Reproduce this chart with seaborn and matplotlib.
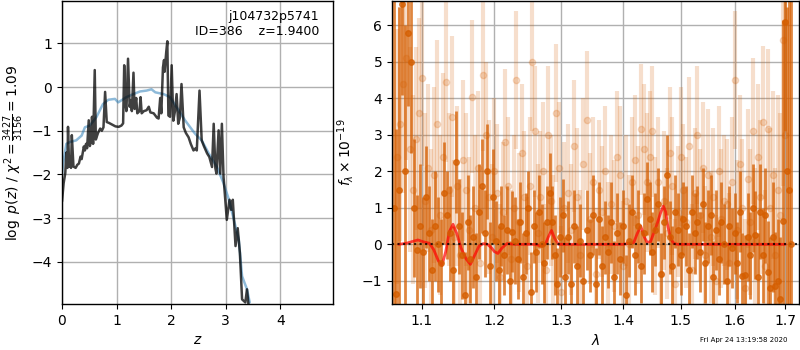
import matplotlib
matplotlib.use("Agg")
import matplotlib.pyplot as plt
from matplotlib.ticker import NullLocator, NullFormatter, FixedLocator, FixedFormatter
import seaborn as sns
import pandas as pd

# ---- left panel: redshift probability ----
pz_z = [0.00, 0.03, 0.06, 0.08, 0.10, 0.11, 0.13, 0.15, 0.165, 0.18, 0.21, 0.25,
        0.28, 0.31, 0.34, 0.36, 0.40, 0.42, 0.44, 0.46, 0.49, 0.51, 0.53, 0.55,
        0.57, 0.60, 0.62, 0.66, 0.70, 0.73, 0.76, 0.79, 0.82, 0.86, 0.92, 0.98,
        1.04, 1.09, 1.12, 1.14, 1.16, 1.18, 1.21, 1.24, 1.26, 1.28, 1.31, 1.33,
        1.36, 1.38, 1.42, 1.44, 1.46, 1.50, 1.55, 1.59, 1.62, 1.68, 1.74, 1.77,
        1.80, 1.82, 1.85, 1.87, 1.88, 1.91, 1.93, 1.95, 1.98, 2.01, 2.04, 2.07,
        2.10, 2.13, 2.16, 2.19, 2.23, 2.27, 2.32, 2.36, 2.41, 2.45, 2.47, 2.52,
        2.56, 2.60, 2.66, 2.70, 2.75, 2.78, 2.81, 2.83, 2.87, 2.90, 2.93, 2.96,
        3.02, 3.07, 3.10, 3.13, 3.18, 3.22, 3.26, 3.28, 3.30, 3.36, 3.39, 3.42]
pz_logp = [-2.62, -2.20, -1.97, -1.50, -1.85, -0.91, -1.82, -1.60, -1.85, -1.10,
           -1.82, -1.85, -1.78, -1.75, -1.59, -1.65, -1.36, -1.45, -1.30, -1.40,
           -0.76, -1.35, -1.25, -0.68, -1.30, 0.39, -1.20, -1.05, -0.95, -1.00,
           -0.92, -0.11, -0.80, -0.82, -0.86, -0.90, -0.91, -0.88, -0.83, 0.50,
           -0.35, -0.55, 0.65, -0.45, -0.30, -0.55, 0.33, -0.50, -0.25, -0.60,
           -0.55, -0.23, -0.60, -0.55, -0.53, -0.45, -0.58, -0.60, -0.70, -0.72,
           -0.25, -0.60, 0.45, 0.62, 0.35, 0.80, 1.05, -0.65, -0.68, 0.50,
           -0.77, -0.55, -0.16, -0.84, -0.70, 0.07, -0.92, -1.05, -1.15, -1.30,
           -1.45, -1.40, -1.45, -0.08, -1.22, -1.35, -1.52, -1.60, -1.83, -0.84,
           -1.85, -1.98, -0.99, -1.98, -0.84, -2.05, -3.04, -2.58, -2.81, -2.58,
           -3.64, -3.23, -3.80, -4.33, -4.86, -4.93, -4.63, -5.01]

prior_z = [0.00, 0.02, 0.08, 0.14, 0.26, 0.36, 0.42, 0.51, 0.63, 0.75, 0.85,
           0.97, 1.03, 1.18, 1.31, 1.43, 1.55, 1.64, 1.71, 1.86, 1.98, 2.10,
           2.26, 2.44, 2.56, 2.69, 2.84, 2.96, 3.06, 3.15, 3.24, 3.30, 3.39, 3.44]
prior_logp = [-2.00, -1.75, -1.30, -1.26, -1.22, -1.11, -0.92, -0.88, -0.69,
              -0.39, -0.29, -0.27, -0.35, -0.23, -0.16, -0.10, -0.08, -0.05,
              -0.12, -0.16, -0.23, -0.46, -0.77, -1.07, -1.22, -1.52, -1.83,
              -2.20, -2.58, -3.04, -3.49, -4.33, -4.63, -4.93]

# ---- right panel: 1D spectrum ----
spec_wave = [1.064, 1.067, 1.070, 1.074, 1.078, 1.082, 1.086, 1.090, 1.094, 1.098,
             1.102, 1.106, 1.110, 1.114, 1.118, 1.122, 1.126, 1.130, 1.134, 1.138,
             1.142, 1.146, 1.150, 1.154, 1.158, 1.162, 1.166, 1.170, 1.174, 1.178,
             1.182, 1.186, 1.190, 1.194, 1.198, 1.202, 1.206, 1.210, 1.214, 1.218,
             1.222, 1.226, 1.230, 1.234, 1.238, 1.242, 1.246, 1.250, 1.254, 1.258,
             1.262, 1.266, 1.270, 1.274, 1.278, 1.282, 1.286, 1.290, 1.294, 1.298,
             1.302, 1.306, 1.310, 1.315, 1.320, 1.325, 1.330, 1.335, 1.340, 1.345,
             1.350, 1.355, 1.360, 1.365, 1.370, 1.375, 1.380, 1.385, 1.390, 1.395,
             1.400, 1.405, 1.410, 1.415, 1.420, 1.425, 1.430, 1.435, 1.440, 1.445,
             1.450, 1.455, 1.460, 1.465, 1.470, 1.475, 1.480, 1.485, 1.490, 1.495,
             1.500, 1.505, 1.510, 1.515, 1.520, 1.525, 1.530, 1.535, 1.540, 1.545,
             1.550, 1.555, 1.560, 1.565, 1.570, 1.575, 1.580, 1.585, 1.590, 1.595,
             1.600, 1.605, 1.610, 1.615, 1.620, 1.625, 1.630, 1.635, 1.640, 1.645,
             1.650, 1.655, 1.660, 1.665, 1.670, 1.675, 1.680, 1.685, 1.690, 1.696,
             1.700, 1.704, 1.708, 1.712]
spec_flux = [1.0, -1.35, 1.5, 6.6, 2.0, 5.8, 5.0, 1.0, -0.15, 0.5,
             -0.2, 1.3, 0.3, -0.7, 0.5, 0.0, -0.5, 1.4, 0.8, 0.3,
             -0.7, 2.25, 0.5, -0.3, -1.4, 0.6, -0.4, 0.2, -0.9, 0.9,
             1.6, 0.3, 2.0, -0.6, 1.3, 0.1, -0.7, 0.5, -0.3, 0.4,
             -1.0, 0.35, 0.1, -0.4, 0.6, -0.9, 0.3, 1.0, -1.3, 0.5,
             -0.2, 0.9, 0.0, -0.5, 0.6, 1.4, 0.6, -0.3, -1.1, 0.2,
             0.8, -0.9, 0.2, -1.1, 0.5, -0.6, 0.1, -1.0, 0.4, -0.3,
             0.8, -1.1, 0.7, -0.6, 0.2, -0.2, 0.6, -0.9, 0.3, -0.4,
             0.5, -1.4, 0.1, 0.9, -0.3, 0.5, -0.6, 0.3, 1.25, 0.7,
             -0.2, 0.4, 1.1, -0.8, 0.6, 1.9, 0.2, -0.6, 0.9, 0.4,
             -0.3, 0.7, 0.5, -0.7, 0.9, 0.3, 0.6, -0.2, 1.1, -0.5,
             0.5, 0.8, -0.9, 0.4, -0.4, 0.6, 0.0, -1.0, 0.5, -0.1,
             0.3, -0.5, 0.9, -0.88, -0.85, 0.2, -0.3, 1.0, 0.25, -0.9,
             0.9, -0.3, 0.8, -0.77, -1.2, 0.2, -1.15, -1.0, -1.5, 0.65,
             6.1, 2.0, 1.5, 0.0]
spec_err = [6.0, 4.5, 5.0, 2.5, 4.0, 2.0, 2.5, 1.9, 1.5, 1.7,
            1.5, 1.4, 1.3, 1.4, 1.5, 1.3, 1.2, 1.4, 1.2, 1.3,
            1.2, 1.4, 1.3, 1.2, 1.2, 1.3, 1.2, 1.4, 1.2, 1.3,
            1.3, 1.2, 1.3, 1.2, 1.3, 1.1, 1.2, 1.1, 1.1, 1.2,
            1.1, 1.1, 1.2, 1.1, 1.1, 1.2, 1.1, 1.0, 1.1, 1.0,
            1.1, 1.0, 1.1, 1.1, 1.0, 1.1, 1.0, 1.1, 1.0, 1.1,
            1.0, 1.1, 1.0, 1.1, 1.0, 1.1, 1.0, 1.0, 1.1, 1.0,
            1.1, 1.0, 1.0, 1.1, 1.0, 1.0, 1.1, 1.0, 1.1, 1.0,
            1.0, 1.1, 1.0, 1.0, 1.1, 1.0, 1.0, 1.1, 1.0, 1.0,
            1.1, 1.0, 1.0, 1.1, 1.0, 1.1, 1.0, 1.1, 1.0, 1.0,
            1.1, 1.0, 1.1, 1.0, 1.0, 1.1, 1.0, 1.1, 1.0, 1.1,
            1.0, 1.1, 1.0, 1.1, 1.0, 1.1, 1.1, 1.0, 1.1, 1.1,
            1.1, 1.1, 1.1, 1.2, 1.1, 1.2, 1.2, 1.2, 1.2, 1.2,
            1.3, 1.3, 1.3, 1.4, 1.4, 1.5, 1.5, 1.7, 1.7, 5.5,
            3.0, 4.5, 5.5, 7.0]

raw_wave = [1.068, 1.072, 1.076, 1.080, 1.084, 1.088, 1.092, 1.096, 1.100, 1.104,
            1.108, 1.112, 1.116, 1.120, 1.124, 1.128, 1.132, 1.136, 1.140, 1.144,
            1.148, 1.152, 1.156, 1.160, 1.164, 1.168, 1.172, 1.176, 1.180, 1.184,
            1.188, 1.192, 1.196, 1.200, 1.204, 1.208, 1.212, 1.216, 1.220, 1.224,
            1.228, 1.232, 1.236, 1.240, 1.244, 1.248, 1.252, 1.256, 1.260, 1.264,
            1.268, 1.272, 1.276, 1.280, 1.284, 1.288, 1.292, 1.296, 1.300, 1.305,
            1.310, 1.315, 1.320, 1.325, 1.330, 1.335, 1.340, 1.345, 1.350, 1.355,
            1.360, 1.365, 1.370, 1.375, 1.380, 1.385, 1.390, 1.395, 1.400, 1.405,
            1.410, 1.415, 1.420, 1.425, 1.430, 1.435, 1.440, 1.445, 1.450, 1.455,
            1.460, 1.465, 1.470, 1.475, 1.480, 1.485, 1.490, 1.495, 1.500, 1.505,
            1.510, 1.515, 1.520, 1.525, 1.530, 1.535, 1.540, 1.545, 1.550, 1.555,
            1.560, 1.565, 1.570, 1.575, 1.580, 1.585, 1.590, 1.595, 1.600, 1.605,
            1.610, 1.615, 1.620, 1.625, 1.630, 1.635, 1.640, 1.645, 1.650, 1.655,
            1.660, 1.665, 1.670, 1.675, 1.680, 1.685, 1.690, 1.695, 1.699]
raw_flux = [2.4, 3.3, 4.4, 5.1, 2.6, 1.5, 2.9, 3.6, 4.55, 1.2,
            2.1, 0.4, 1.9, 3.3, 0.8, 2.4, 4.45, 1.5, 3.5, 0.2,
            1.6, -0.3, 2.3, 1.5, 0.4, 4.05, 1.0, 2.1, -0.5, 4.65,
            3.0, 1.3, 0.2, 2.0, 1.4, -0.9, 0.9, 2.8, 1.6, -0.4,
            1.0, 4.5, 0.6, 2.5, 1.3, -0.6, 1.6, 5.0, 3.1, 0.3,
            1.3, 2.0, -0.7, 3.0, 1.2, 0.1, 3.6, 2.1, -1.3, 1.0,
            1.4, 0.4, 2.7, 1.3, -0.3, 2.2, 3.4, 0.7, 1.7, -0.8,
            1.5, 0.9, 2.0, -0.1, 1.1, 0.5, 2.4, 1.9, -0.6, 1.2,
            0.0, 1.7, 2.3, 0.8, 3.15, 2.6, 1.7, 2.4, 3.1, 0.5,
            1.7, -0.8, 1.2, 0.3, 2.5, 1.6, -1.1, 0.9, 2.4, 1.5,
            0.6, 2.7, -0.7, 1.4, 3.0, 0.8, 2.1, -0.3, 1.9, 0.2,
            1.3, -1.0, 2.0, 0.7, 1.2, 1.1, -0.5, 1.7, 4.5, 0.4,
            2.2, 1.0, -1.2, 1.8, 0.6, 3.1, 0.1, 2.4, 1.3, 3.35,
            -0.6, 3.15, 1.0, 1.9, -0.3, 1.5, 0.8, 5.6, 3.0]
raw_err = [3.5, 3.2, 3.0, 2.8, 2.8, 2.6, 2.5, 2.6, 2.4, 2.4,
           2.3, 2.2, 2.4, 2.3, 2.2, 2.3, 2.2, 2.1, 2.2, 2.1,
           2.2, 2.1, 2.2, 2.1, 2.0, 2.1, 2.0, 2.1, 2.0, 2.1,
           2.0, 2.1, 2.0, 2.0, 1.9, 2.0, 1.9, 2.0, 1.9, 1.9,
           2.0, 1.9, 1.9, 1.9, 1.8, 1.9, 1.9, 1.9, 1.8, 1.9,
           1.8, 1.9, 1.8, 1.9, 1.8, 1.8, 1.9, 1.8, 1.8, 1.8,
           1.9, 1.8, 1.8, 1.9, 1.8, 1.8, 1.9, 1.8, 1.8, 1.8,
           1.9, 1.8, 1.8, 1.8, 1.9, 1.8, 1.8, 1.9, 1.8, 1.8,
           1.9, 1.8, 1.8, 1.9, 1.8, 1.8, 1.9, 1.8, 1.8, 1.9,
           1.8, 1.8, 1.9, 1.8, 1.8, 1.9, 1.8, 1.8, 1.9, 1.8,
           1.8, 1.9, 1.8, 1.8, 1.9, 1.8, 1.8, 1.9, 1.8, 1.8,
           1.9, 1.8, 1.8, 1.9, 1.8, 1.8, 1.9, 1.8, 1.9, 1.9,
           1.9, 1.9, 1.9, 1.9, 2.0, 2.0, 2.0, 2.0, 2.1, 2.1,
           2.1, 2.2, 2.2, 2.3, 2.4, 2.6, 2.8, 4.0, 5.0]

model_wave = [1.070, 1.080, 1.088, 1.095, 1.102, 1.110, 1.116, 1.122, 1.127,
              1.132, 1.137, 1.142, 1.147, 1.153, 1.160, 1.166, 1.172, 1.178,
              1.184, 1.190, 1.196, 1.200, 1.205, 1.211, 1.218, 1.230, 1.260,
              1.270, 1.276, 1.280, 1.285, 1.290, 1.296, 1.310, 1.400, 1.418,
              1.424, 1.430, 1.436, 1.441, 1.447, 1.452, 1.458, 1.464, 1.469,
              1.473, 1.477, 1.482, 1.488, 1.495, 1.550, 1.650, 1.700]
model_flux = [0.0, 0.03, 0.08, 0.12, 0.07, 0.03, -0.15, -0.45, -0.58,
              -0.2, 0.35, 0.55, 0.3, -0.1, -0.4, -0.55, -0.3, -0.05,
              0.02, 0.0, -0.1, -0.2, -0.25, -0.1, 0.02, 0.0, 0.0,
              -0.05, 0.02, 0.2, 0.38, 0.15, 0.0, 0.0, 0.0, 0.05,
              0.3, 0.5, 0.2, 0.05, 0.08, 0.3, 0.55, 0.85, 1.05,
              0.9, 0.5, 0.15, 0.02, 0.0, 0.0, 0.0, 0.0]

zero_wave = [1.062, 1.725]
zero_flux = [0.0, 0.0]

lam_ticks = [1.1, 1.2, 1.3, 1.4, 1.5, 1.6, 1.7]
g141_color = (0.835, 0.369, 0.0)

sns.set_style("ticks", {"axes.grid": True, "grid.color": "#b0b0b0",
                        "axes.edgecolor": "black", "xtick.color": "black",
                        "ytick.color": "black", "axes.labelcolor": "black",
                        "text.color": "black"})
plt.rcParams["font.family"] = ["DejaVu Sans"]
plt.rcParams["font.size"] = 10

fig = plt.figure(figsize=(8, 3.5), dpi=100)
ax1 = fig.add_axes([0.0775, 0.131, 0.339, 0.866])
ax2 = fig.add_axes([0.49, 0.131, 0.509, 0.866])

pz_df = pd.DataFrame({"z": pz_z, "logp": pz_logp})
prior_df = pd.DataFrame({"z": prior_z, "logp": prior_logp})
sns.lineplot(data=prior_df, x="z", y="logp", ax=ax1, color="#1f77b4",
             alpha=0.5, lw=1.8, sort=False, estimator=None)
sns.lineplot(data=pz_df, x="z", y="logp", ax=ax1, color="k", alpha=0.75,
             lw=1.8, sort=False, estimator=None)
ax1.set_xlim(0, 4.97)
ax1.set_ylim(-4.97, 1.97)
ax1.set_xticks([0, 1, 2, 3, 4])
ax1.set_yticks([-4, -3, -2, -1, 0, 1])
ax1.set_xlabel(r"$z$")
ax1.set_ylabel(r"$\log\ p(z)$" + " / " + r"$\chi^2=\frac{3427}{3156}=1.09$")
ax1.text(0.948, 0.97, "j104732p5741\nID=386    z=1.9400",
         transform=ax1.transAxes, ha="right", va="top", fontsize=9)

# raw (light) and combined (dark) spectra
ax2.errorbar(raw_wave, raw_flux, yerr=raw_err, marker="o", ms=4.5,
             linestyle="None", color=g141_color, alpha=0.2, elinewidth=3)
ax2.errorbar(spec_wave, spec_flux, yerr=spec_err, marker="o", ms=4,
             linestyle="None", color=g141_color, alpha=0.75, elinewidth=2)
sns.lineplot(x=model_wave, y=model_flux, ax=ax2, color="r", alpha=0.7,
             lw=2, sort=False, estimator=None)
ax2.plot(zero_wave, zero_flux, color="k", linestyle=":", lw=1.5, alpha=0.8)

ax2.set_xscale("log")
ax2.set_xlim(1.0615, 1.7287)
ax2.set_ylim(-1.64, 6.67)
ax2.xaxis.set_major_locator(FixedLocator(lam_ticks))
ax2.xaxis.set_major_formatter(FixedFormatter([f"{t:.1f}" for t in lam_ticks]))
ax2.xaxis.set_minor_locator(NullLocator())
ax2.xaxis.set_minor_formatter(NullFormatter())
ax2.set_yticks([-1, 0, 1, 2, 3, 4, 5, 6])
ax2.set_xlabel(r"$\lambda$")
ax2.set_ylabel(r"$f_\lambda\times10^{-19}$")

for ax in (ax1, ax2):
    ax.grid(True, color="#b0b0b0", lw=1)
    ax.tick_params(direction="out", length=3.5, width=0.8, labelsize=10,
                   left=True, bottom=True)
    for s in ax.spines.values():
        s.set_visible(True)
        s.set_linewidth(1)
        s.set_color("black")

fig.text(0.985, 0.029, "Fri Apr 24 13:19:58 2020", ha="right", va="center",
         fontsize=5)

fig.savefig("out.png", dpi=100)
